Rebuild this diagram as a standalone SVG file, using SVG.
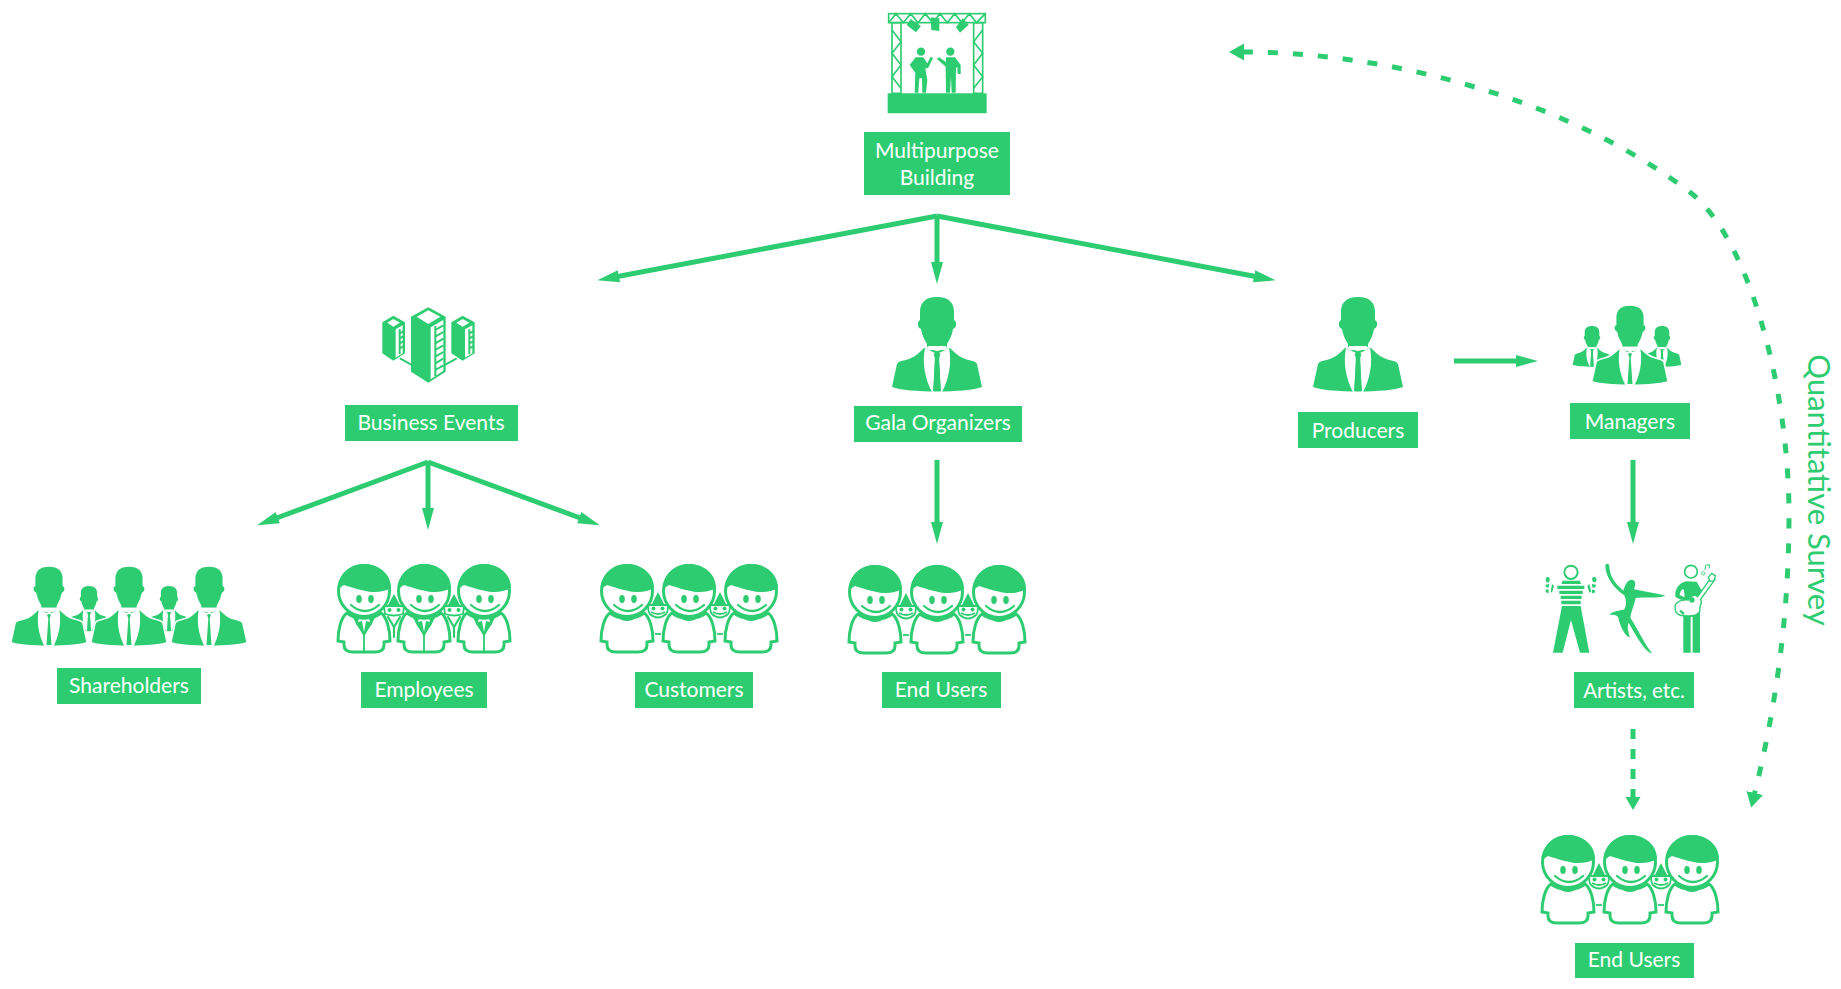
<svg xmlns="http://www.w3.org/2000/svg" xmlns:xlink="http://www.w3.org/1999/xlink" width="1841" height="989" viewBox="0 0 1841 989">
<style>
.lb{fill:#2ecc71}
.t{fill:#fff;font-family:"Lato","Liberation Sans",sans-serif;font-size:21px;text-anchor:middle}
.c{fill:none;stroke:#2ecc71;stroke-width:5}
.d{fill:none;stroke:#2ecc71;stroke-width:5;stroke-dasharray:10 10}
.q{fill:none;stroke:#2ecc71;stroke-width:5;stroke-dasharray:10 15}
.g{fill:#2ecc71}
.w{fill:#fff}
.o{fill:#fff;stroke:#2ecc71;stroke-width:3}
.n{fill:none;stroke:#2ecc71;stroke-width:2.2;stroke-linecap:round}
.s{fill:none;stroke:#2ecc71;stroke-width:1.8}
</style>
<defs>
<marker id="ah" markerUnits="userSpaceOnUse" markerWidth="24" markerHeight="14" refX="4" refY="7" orient="auto"><path d="M0,1 L22,7 L0,13 z" fill="#2ecc71"/></marker>
<marker id="ad" markerUnits="userSpaceOnUse" markerWidth="16" markerHeight="16" refX="2" refY="8" orient="auto"><path d="M0,0.5 L13,8 L0,15.5 z" fill="#2ecc71"/></marker>
<marker id="aq" markerUnits="userSpaceOnUse" markerWidth="18" markerHeight="18" refX="1" refY="9" orient="auto-start-reverse"><path d="M0,0.5 L15,9 L0,17.5 z" fill="#2ecc71"/></marker>
<g id="man">
<path class="g" d="M0,0 C-12,0 -17,6 -17,15 L-17,23 C-20,24 -20,31 -16,32 C-15,38 -13,42 -10,47 L-10,50 L10,50 L10,47 C13,42 15,38 16,32 C20,31 20,24 17,23 L17,15 C17,6 12,0 0,0 Z"/>
<path class="g" d="M-13,51 C-17,55 -21,59 -26,61 C-32,64 -38,63 -40,67 L-45,90 C-30,96 30,96 45,90 L40,67 C38,63 32,64 26,61 C21,59 17,55 13,51 L0,54 Z"/>
<path class="w" stroke="none" d="M-12,51 L-2,56 L-3.5,95 L-5,95 C-12,82 -15,66 -12,51 Z M12,51 L2,56 L3.5,95 L5,95 C12,82 15,66 12,51 Z M-9,49 L9,49 L9,53 L-9,53 Z"/>
<path class="g" d="M-3.5,57 L0,55 L3.5,57 L1.8,62 L4,94 L-4,94 L-1.8,62 Z"/>
</g>
<g id="mini">
<path class="g" d="M0,28 L-6,40 L6,40 Z"/>
<path class="s" d="M-10,41 L10,41 M-10,41 Q-10,48 -8,50 Q0,57 8,50 Q10,48 10,41"/>
<circle class="g" cx="-4.5" cy="44.5" r="2"/><circle class="g" cx="4.5" cy="44.5" r="2"/>
<path class="s" d="M-7,48 Q0,52 7,48"/>
<path class="s" d="M-3,70 L3,70"/>
</g>
<g id="minijacket">
<path class="g" d="M0,30 L-6,41 L6,41 Z"/>
<path class="s" d="M-10,42 L10,42 M-10,42 L-9,50 Q0,53 9,50 L10,42"/>
<circle class="g" cx="-4.5" cy="46" r="2"/><circle class="g" cx="4.5" cy="46" r="2"/>
<path class="n" d="M-6,53 L0,63 L6,53 M0,63 L0,73"/>
</g>
<g id="head">
<circle class="o" cx="0" cy="27" r="25.5"/>
<path class="g" d="M-20,21 C-10,24 0,27.5 8,28 C15,28.5 22,27 27,24 C27,10 15,0 0,0 C-14,0 -26,10 -26,25 Z"/>
<ellipse class="g" cx="-5" cy="35" rx="2.8" ry="4"/><ellipse class="g" cx="7" cy="35" rx="2.8" ry="4"/>
<path class="n" d="M-13,41 Q1,53 15,41"/>
</g>
<g id="user">
<path class="o" d="M-17,49 C-23,53 -26,66 -26,77 L-20,78 L-20,81 C-20,86 -16,88 -11,88 L11,88 C16,88 20,86 20,81 L20,78 L26,77 C26,66 23,53 17,49 C10,56 -10,56 -17,49 Z"/>
<use xlink:href="#head" href="#head"/>
<path class="s" d="M-10,52 Q0,60 10,52"/>
</g>
<g id="emp">
<path class="o" d="M-17,49 C-23,53 -26,66 -26,77 L-20,78 L-20,81 C-20,86 -16,88 -11,88 L11,88 C16,88 20,86 20,81 L20,78 L26,77 C26,66 23,53 17,49 C10,56 -10,56 -17,49 Z"/>
<use xlink:href="#head" href="#head"/>
<path class="g" d="M-10,52 L-5,54 L-6,58 L-2,57 L0,68 L2,57 L6,58 L5,54 L10,52 L8,60 L0,71 L-8,60 Z"/>
<path class="s" d="M-11,52 L0,71 L11,52 M0,71 L0,88"/>
</g>
</defs>

<g id="connectors">
<path class="c" d="M937,216 L615,277" marker-end="url(#ah)"/>
<path class="c" d="M937,216 L937,266" marker-end="url(#ah)"/>
<path class="c" d="M937,216 L1258,277" marker-end="url(#ah)"/>
<path class="c" d="M428,462 L274,519" marker-end="url(#ah)"/>
<path class="c" d="M428,462 L428,512" marker-end="url(#ah)"/>
<path class="c" d="M428,462 L583,519" marker-end="url(#ah)"/>
<path class="c" d="M937,460 L937,526" marker-end="url(#ah)"/>
<path class="c" d="M1454,361 L1520,361" marker-end="url(#ah)"/>
<path class="c" d="M1633,460 L1633,526" marker-end="url(#ah)"/>
<path class="d" d="M1633,729 L1633,799" marker-end="url(#ad)"/>
<path class="q" d="M1243,52 C1390,52 1570,100 1691,193 C1750,240 1789,390 1789,515 C1789,620 1775,710 1754.5,794" marker-start="url(#aq)" marker-end="url(#aq)"/>
</g>

<g id="multipurpose-building">
<g transform="translate(840,0) scale(.3333)">
<g fill="none" stroke="#2ecc71" stroke-width="5">
<rect x="146" y="41" width="290" height="27"/>
<path d="M146,68 L168,41 L190,68 L212,41 L234,68 L256,41 L278,68 L300,41 L322,68 L344,41 L366,68 L388,41 L410,68 L436,41"/>
<rect x="156" y="68" width="27" height="212"/>
<rect x="401" y="68" width="27" height="212"/>
<path d="M156,90 L183,125 L156,160 L183,195 L156,230 L183,265"/>
<path d="M428,90 L401,125 L428,160 L401,195 L428,230 L401,265"/>
</g>
<path class="g" d="M143,280 H440 V340 H143 Z"/>
<path class="g" d="M212,57 L243,78 L228,97 L200,75 Z M272,52 L298,55 L298,93 L274,90 Z M368,55 L386,74 L360,98 L348,82 Z"/>
<circle class="g" cx="243" cy="155" r="12.5"/>
<circle class="g" cx="331" cy="155" r="12.5"/>
<path class="g" d="M227,172 L250,172 L262,190 L272,170 L279,174 L264,205 L256,205 L262,240 L258,278 L247,278 L246,235 L238,235 L235,278 L224,278 L226,218 L209,195 Z"/>
<path class="g" d="M318,172 L345,172 L362,195 L362,222 L353,222 L352,200 L348,205 L347,278 L335,278 L333,230 L330,278 L318,278 L317,200 L291,177 L297,172 L318,186 Z"/>
</g>
<rect class="lb" x="864" y="132" width="146" height="63"/>
<text class="t" x="937" y="158">Multipurpose</text>
<text class="t" x="937" y="185">Building</text>
</g>

<g id="business-events">
<g transform="translate(360,290) scale(.3333)">
<path fill="none" stroke="#2ecc71" stroke-width="6" d="M120,205 L155,225 M255,225 L290,205"/>
<path class="g" d="M67,97 L100,77 L135,97 L135,190 L100,212 L67,190 Z"/>
<path class="w" d="M82,98 L100,87 L120,98 L100,110 Z M107,118 L128,106 L128,190 L107,203 Z"/>
<path class="g" d="M274,97 L308,77 L344,97 L344,190 L308,212 L274,190 Z"/>
<path class="w" d="M289,98 L308,87 L328,98 L308,110 Z M315,118 L337,106 L337,190 L315,203 Z"/>
<path class="g" d="M153,80 L205,52 L257,80 L257,245 L205,278 L153,245 Z"/>
<path class="w" d="M170,80 L205,61 L241,80 L205,102 Z M212,112 L250,90 L250,242 L212,268 Z"/>
<path fill="none" stroke="#2ecc71" stroke-width="6" d="M226,108 L226,258 M226,120 L250,106 M226,140 L250,126 M226,160 L250,146 M226,180 L250,166 M226,200 L250,186 M226,220 L250,206 M226,240 L250,226 M119,118 L119,192 M119,130 L130,124 M119,145 L130,139 M119,160 L130,154 M119,175 L130,169 M328,118 L328,192 M328,130 L339,124 M328,145 L339,139 M328,160 L339,154 M328,175 L339,169"/>
</g>
<rect class="lb" x="345" y="405" width="173" height="36"/>
<text class="t" x="431" y="430">Business Events</text>
</g>

<g id="gala-organizers">
<use xlink:href="#man" href="#man" x="937" y="297"/>
<rect class="lb" x="854" y="406" width="168" height="36"/>
<text class="t" x="938" y="430">Gala Organizers</text>
</g>

<g id="producers">
<use xlink:href="#man" href="#man" x="1358" y="297"/>
<rect class="lb" x="1298" y="412" width="120" height="36"/>
<text class="t" x="1358" y="438">Producers</text>
</g>

<g id="managers">
<use xlink:href="#man" href="#man" transform="translate(1592,326) scale(.43)"/>
<use xlink:href="#man" href="#man" transform="translate(1662,326) scale(.43)"/>
<g transform="translate(1630,305) scale(.85)" stroke="#fff" stroke-width="2"><use xlink:href="#man" href="#man"/></g>
<rect class="lb" x="1570" y="403" width="120" height="36"/>
<text class="t" x="1630" y="429">Managers</text>
</g>

<g id="shareholders">
<use xlink:href="#man" href="#man" transform="translate(89,586) scale(.48)"/>
<use xlink:href="#man" href="#man" transform="translate(169,586) scale(.48)"/>
<g stroke="#fff" stroke-width="2">
<use xlink:href="#man" href="#man" transform="translate(49,566) scale(.85)"/>
<use xlink:href="#man" href="#man" transform="translate(129,566) scale(.85)"/>
<use xlink:href="#man" href="#man" transform="translate(209,566) scale(.85)"/>
</g>
<rect class="lb" x="57" y="668" width="144" height="36"/>
<text class="t" x="129" y="693">Shareholders</text>
</g>

<g id="employees">
<use xlink:href="#minijacket" href="#minijacket" x="394" y="564"/>
<use xlink:href="#minijacket" href="#minijacket" x="454" y="564"/>
<use xlink:href="#emp" href="#emp" x="364" y="564"/>
<use xlink:href="#emp" href="#emp" x="424" y="564"/>
<use xlink:href="#emp" href="#emp" x="484" y="564"/>
<rect class="lb" x="361" y="672" width="126" height="36"/>
<text class="t" x="424" y="697">Employees</text>
</g>

<g id="customers">
<use xlink:href="#mini" href="#mini" x="658" y="564"/>
<use xlink:href="#mini" href="#mini" x="720" y="564"/>
<use xlink:href="#user" href="#user" x="627" y="564"/>
<use xlink:href="#user" href="#user" x="689" y="564"/>
<use xlink:href="#user" href="#user" x="751" y="564"/>
<rect class="lb" x="635" y="672" width="118" height="36"/>
<text class="t" x="694" y="697">Customers</text>
</g>

<g id="end-users-middle">
<use xlink:href="#mini" href="#mini" x="906" y="565"/>
<use xlink:href="#mini" href="#mini" x="968" y="565"/>
<use xlink:href="#user" href="#user" x="875" y="565"/>
<use xlink:href="#user" href="#user" x="937" y="565"/>
<use xlink:href="#user" href="#user" x="999" y="565"/>
<rect class="lb" x="882" y="672" width="119" height="36"/>
<text class="t" x="941" y="697">End Users</text>
</g>

<g id="artists">
<g transform="translate(1530,540) scale(.3333)">
<circle cx="123" cy="97" r="20" fill="none" stroke="#2ecc71" stroke-width="6"/>
<path class="g" d="M97,122 H150 L153,132 H95 Z M82,137 H163 V147 H82 Z M88,152 H158 V162 H88 Z M92,167 H155 V177 H92 Z M94,182 H152 V193 H94 Z"/>
<path class="g" d="M96,198 H152 L178,338 H150 L123,240 L98,338 H69 Z"/>
<path class="g" d="M47,115 Q55,104 60,118 L56,128 L48,125 Z M46,134 L58,132 L56,143 L48,141 Z M46,150 L56,148 L56,160 L48,157 Z M66,132 L72,138 L66,158 L62,155 Z"/>
<path class="g" d="M186,115 Q195,104 200,118 L198,126 L188,125 Z M186,132 L198,134 L196,142 L187,143 Z M186,149 L196,151 L194,158 L186,160 Z M172,138 L178,132 L184,155 L178,158 Z"/>
<path class="g" d="M226,75 C232,68 238,72 238,80 C240,110 255,130 280,152 C285,135 293,118 305,119 C316,120 319,130 312,148 C340,155 375,158 407,167 C380,176 340,170 317,174 C312,200 300,222 302,235 C325,270 345,315 366,340 C345,335 320,290 296,248 C290,262 296,278 300,292 C285,290 270,258 264,230 C255,222 245,225 238,224 C250,212 275,212 283,208 C290,195 290,180 282,165 C258,150 226,115 226,75 Z"/>
<circle cx="483" cy="95" r="19" fill="none" stroke="#2ecc71" stroke-width="5"/>
<path class="g" d="M468,124 C450,128 434,145 436,170 C444,175 450,180 460,180 L460,228 L460,338 H482 V230 H488 V338 H510 V225 L512,170 L520,160 L500,125 Z"/>
<path class="w" d="M449,165 C452,150 458,145 462,150 L464,172 Z"/>
<path d="M436,210 C430,185 455,178 475,180 C480,168 495,162 503,170 L545,110 L555,118 L512,178 C520,190 505,200 510,210 C508,225 490,228 475,228 C458,228 440,228 436,210 Z" fill="#fff" stroke="#2ecc71" stroke-width="4"/>
<circle cx="486" cy="180" r="8" class="g"/>
<path d="M535,112 L545,100 L556,107 L553,122 L540,124 Z" fill="#fff" stroke="#2ecc71" stroke-width="4"/>
<path d="M520,95 a5,5 0 1,0 .1,0 M525,90 L527,76 L538,74 L538,85" fill="none" stroke="#2ecc71" stroke-width="3"/>
<path d="M450,212 L462,222" stroke="#2ecc71" stroke-width="7" fill="none"/>
</g>
<rect class="lb" x="1574" y="672" width="120" height="36"/>
<text class="t" x="1634" y="698" style="font-size:20.5px">Artists, etc.</text>
</g>

<g id="end-users-bottom">
<use xlink:href="#mini" href="#mini" x="1599" y="835"/>
<use xlink:href="#mini" href="#mini" x="1661" y="835"/>
<use xlink:href="#user" href="#user" x="1568" y="835"/>
<use xlink:href="#user" href="#user" x="1630" y="835"/>
<use xlink:href="#user" href="#user" x="1692" y="835"/>
<rect class="lb" x="1575" y="943" width="119" height="35"/>
<text class="t" x="1634" y="967">End Users</text>
</g>

<g id="survey-label">
<text transform="translate(1808,490) rotate(90)" fill="#2ecc71" font-family="Lato, 'Liberation Sans', sans-serif" font-size="31" text-anchor="middle">Quantitative Survey</text>
</g>
</svg>
